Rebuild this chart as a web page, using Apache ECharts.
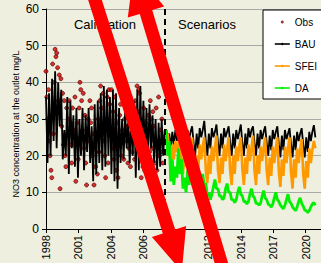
<!DOCTYPE html>
<html><head><meta charset="utf-8">
<script src="https://cdn.jsdelivr.net/npm/echarts@6/dist/echarts.min.js"></script>
<style>html,body{margin:0;padding:0;background:#eeefde;}#c{width:321px;height:263px;}</style>
</head><body><div id="c"></div>
<script>
// ---- data (x in axis tick units, one unit per labelled tick) ----
const tickLabels = ['1998','2001','2004','2006','2009','2012','2014','2017','2020'];
const seriesNames = ['Obs','BAU','SFEI','DA'];
const step = 0.046875;      // simulation time step (tick units)
const obsStep = 0.0255;     // observation spacing (tick units)
const scenStart = 79;       // index where the scenarios begin
const splitAt = 3.65;       // calibration / scenarios boundary

const bauCal = [36,18,37,20,41,24,43,22,40,28,38,
  19,27,20,36,15,35,22,31,17,33,
  14,30,20,33,16,31,21,33,18,28,
  13,34,15,35,18,37,16,39,17,38,
  20,36,15,38,13,37,11,33,18,30,
  19,32,22,29,18,30,20,35,14,38,
  16,39,18,35,20,33,19,34,22,31,
  18,30,16,29,17,30,20,27];
const bauScen = [27,25,26,22,26.5,23,27,24,
  26,28,24,21,26,22.5,27,24.5,
  26.5,28,23.5,20,26,22,27.5,25,
  27,29.5,24,20,26,22,27.5,25,
  26.5,28.5,23.5,20,26,22,27.5,25,
  26.5,28,23.5,20,26,22,27,24.5,
  26.5,28.5,23.5,20,26,22,27.5,25,
  27,28,23.5,20,26,22,27,24.5,
  26.5,28,23.5,20,25.5,21.5,27,24.5,
  26.5,28,23,19.5,25.5,21.5,27,24.5,
  26,27.5,23,19.5,25.5,21.5,26.5,24,
  26,27.5,23,19.5,25,21,26.5,24,
  26.5,28.3,25];
const sfei = [24,26,21,18,23,19,24,21,
  23,25.5,19,15,21,17,23,19.5,
  22,25,17,13,20,15.5,23,19,
  22.5,25,16,12.5,20,15,22.5,18.5,
  22,25.5,16,12.5,19.5,15,23,18.5,
  22,25,16,12,20,15,22.5,18.5,
  22.5,25,16.5,12,19.5,15,23,18.5,
  22,25.5,16,12,20,15,22.5,18.5,
  22,25,16,12,19.5,14.5,22.5,18,
  22,25,15.5,11.5,19,14.5,22.5,18,
  22,25,15.5,11,19,14,22,18,
  21.5,24.5,15,11,18.5,14,22,18,
  21.5,24,22];
const da = [27,20,24,13,19,12,17,14,
  22,15,19,11,14,10,16,12,
  18,13,15,10,12,9.5,11,13,
  15,11.5,12.5,9,10,8,9.5,11.5,
  13.5,11,11,9,9,8,8.5,11,
  12.4,10,10,8,8,7.2,8,10,
  11.5,9.5,9,7.5,7.5,6.8,7.5,9.5,
  11,9,8.5,7,7,6.5,7,9,
  10.5,8.5,8,6.8,6.5,6,6.8,8.5,
  10,8,7.5,6.5,6,5.5,6.5,8,
  9.5,7.5,7,6,5.5,5,6,7.5,
  8.5,7,6.2,5.2,5,4.5,5,6,
  6.8,7.2,6.5];
const obs = [43,36,30,38,24,20, 16,14,45,26,40,49, 47,48,44,35,42,11,
  41,28,37,23,35,20, 17,33,26,30,35,23, 29,18,33,27,23,36,
  13,25,29,19,33,40, 38,35,27,37,22,31, 18,12,27,30,24,35,
  29,33,20,26,12,22, 17,25,15,30,21,35, 39,33,28,37,24,20,
  14,30,36,18,38,34, 27,38,22,32,19,36, 25,16,29,14,23,31,
  34,20,27,35,19,30, 36,24,28,18,22,26, 17,31,21,24,28,19,
  35,27,39,32,38,37, 30,14,27,17,33,16, 29,23,25,19,31,21,
  35,30,22,32,28,24, 18,33,16,24,36,20, 27,21,30,18,25];

// ---- chart ----
const FONT = "'Liberation Sans', Arial, sans-serif";
const bauData = bauCal.concat(bauScen).map((v, i) => [i * step, v]);
const sfeiData = sfei.map((v, j) => [(scenStart + j) * step, v]);
const daData = da.map((v, j) => [(scenStart + j) * step, v]);
const obsData = obs.map((v, i) => [i * obsStep, v]);

const chart = echarts.init(document.getElementById('c'), null, {renderer: 'svg'});
chart.setOption({
  animation: false,
  backgroundColor: '#eeefde',
  textStyle: {fontFamily: FONT},
  grid: {left: 46, right: 0, top: 9, bottom: 34},
  legend: {
    data: [{name: 'Obs', icon: 'circle', itemStyle: {borderWidth: 0, color: '#8b0000'}},
           'BAU', 'SFEI', 'DA'],
    orient: 'vertical', left: 263, top: 10,
    itemWidth: 15, itemHeight: 3, itemGap: 12,
    padding: [7, 5, 6, 11],
    backgroundColor: '#ffffff', borderColor: '#000000', borderWidth: 1,
    textStyle: {fontSize: 10, color: '#000', fontFamily: FONT},
    lineStyle: {width: 1.6}
  },
  xAxis: {
    type: 'value', min: 0, max: 8.47, interval: 1,
    splitLine: {show: false},
    axisLine: {lineStyle: {color: '#000', width: 1}},
    axisTick: {length: 4, lineStyle: {color: '#000'}},
    axisLabel: {rotate: 90, margin: 6, fontSize: 11, color: '#000', fontFamily: FONT,
      formatter: v => (Number.isInteger(v) && tickLabels[v] !== undefined) ? tickLabels[v] : ''}
  },
  yAxis: {
    type: 'value', min: 0, max: 60, interval: 10,
    splitLine: {lineStyle: {color: '#a9a9a9', width: 1}},
    axisLine: {show: true, lineStyle: {color: '#000', width: 1}},
    axisTick: {show: true, length: 4, lineStyle: {color: '#000'}},
    axisLabel: {fontSize: 12, color: '#000', margin: 7, fontFamily: FONT}
  },
  series: [
    {name: 'BAU', type: 'line', data: bauData, symbol: 'none', color: '#000',
     lineStyle: {color: '#000', width: 1.8}},
    {name: 'SFEI', type: 'line', data: sfeiData, symbol: 'none', color: '#ff9900',
     lineStyle: {color: '#ff9900', width: 2.6}},
    {name: 'DA', type: 'line', data: daData, symbol: 'none', color: '#00f000',
     lineStyle: {color: '#00f000', width: 2.8}},
    {name: 'Obs', type: 'scatter', data: obsData, symbolSize: 4, color: '#d40000',
     itemStyle: {color: '#d40000', borderColor: '#4a0000', borderWidth: 0.8},
     markLine: {silent: true, symbol: ['none', 'none'], label: {show: false},
       lineStyle: {color: '#000', width: 2, type: [6, 4]},
       data: [[{coord: [splitAt, 60]}, {coord: [splitAt, 8]}]]}}
  ],
  graphic: [
    {type: 'text', x: 105, y: 24, z: 50,
     style: {text: 'Calibration', fontSize: 13, fontFamily: FONT, fill: '#000', align: 'center', verticalAlign: 'middle'}},
    {type: 'text', x: 207, y: 24, z: 50,
     style: {text: 'Scenarios', fontSize: 13, fontFamily: FONT, fill: '#000', align: 'center', verticalAlign: 'middle'}},
    {type: 'text', x: 15.5, y: 124, rotation: Math.PI / 2, z: 50,
     style: {text: 'NO3 concentration at the outlet mg/L', fontSize: 9, fontFamily: FONT, fill: '#000', align: 'center', verticalAlign: 'middle'}},
    {type: 'polygon', z: 100,
     shape: {points: [[82.4,-18],[94.8,-22],[175.2,229.5],[186.1,226],[181.8,271.5],[151.9,237],[162.8,233.5]]},
     style: {fill: '#ff0000'}},
    {type: 'polygon', z: 100,
     shape: {points: [[221.8,286.9],[234.2,283.1],[152.2,10.1],[164.2,6.5],[133.9,-30],[127.8,17.5],[139.8,13.9]]},
     style: {fill: '#ff0000'}}
  ]
});
</script>
</body></html>
